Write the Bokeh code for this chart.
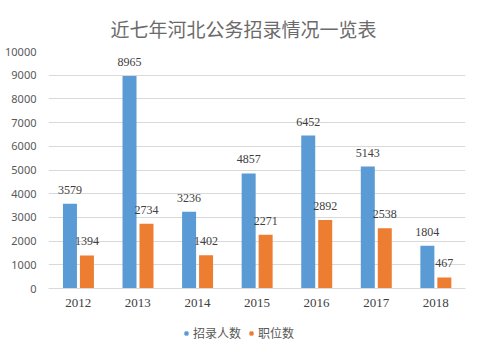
from bokeh.plotting import figure
from bokeh.layouts import column
from bokeh.models import ColumnDataSource, FactorRange, Legend, LegendItem, Range1d, FixedTicker, LabelSet
from bokeh.transform import dodge
from bokeh.embed import file_html
from bokeh.resources import INLINE

years = ["2012", "2013", "2014", "2015", "2016", "2017", "2018"]
recruits = [3579, 8965, 3236, 4857, 6452, 5143, 1804]
positions = [1394, 2734, 1402, 2271, 2892, 2538, 467]
y_ticks = [0, 1000, 2000, 3000, 4000, 5000, 6000, 7000, 8000, 9000, 10000]
series_names = ["招录人数", "职位数"]
colors = ["#5B9BD5", "#ED7D31"]

src = ColumnDataSource(dict(years=years, recruits=recruits, positions=positions,
                            rl=[str(v) for v in recruits], pl=[str(v) for v in positions]))

p = figure(width=484, height=313, x_range=FactorRange(*years), y_range=Range1d(0, 10000),
           output_backend="svg", toolbar_location=None,
           min_border_left=48, min_border_right=19, min_border_top=51, min_border_bottom=25)

p.title.text = "近七年河北公务招录情况一览表"
p.title.align = "left"
p.title.offset = 62
p.title.text_font = "Noto Sans CJK SC"
p.title.text_font_style = "normal"
p.title.text_font_size = "19px"
p.title.text_color = "#6b6b6b"
p.title.standoff = 20

b1 = p.vbar(x=dodge("years", -0.14, range=p.x_range), top="recruits", width=0.235, source=src,
            color=colors[0], line_color=None)
b2 = p.vbar(x=dodge("years", 0.145, range=p.x_range), top="positions", width=0.235, source=src,
            color=colors[1], line_color=None)

for col, lab, off in (("recruits", "rl", -0.14), ("positions", "pl", 0.145)):
    ls = LabelSet(x=dodge("years", off, range=p.x_range), y=col, text=lab, source=src,
                  text_align="center", text_baseline="bottom", y_offset=10,
                  text_font="Noto Sans", text_font_size="12px", text_color="#404040")
    p.add_layout(ls)

p.yaxis.ticker = FixedTicker(ticks=y_ticks)
p.yaxis.axis_line_color = None
p.yaxis.major_tick_line_color = None
p.yaxis.minor_tick_line_color = None
p.yaxis.major_label_standoff = 6
p.yaxis.major_label_text_font = "Noto Sans"
p.yaxis.major_label_text_font_size = "11px"
p.yaxis.major_label_text_color = "#595959"

p.xaxis.axis_line_color = "#d9d9d9"
p.xaxis.major_tick_line_color = None
p.xaxis.minor_tick_line_color = None
p.xaxis.major_label_standoff = 4
p.xaxis.major_label_text_font = "Liberation Serif"
p.xaxis.major_label_text_font_size = "13px"
p.xaxis.major_label_text_color = "#404040"

p.xgrid.grid_line_color = None
p.ygrid.grid_line_color = "#d9d9d9"
p.outline_line_color = None
p.x_range.range_padding = 0
p.x_range.group_padding = 0

# legend strip below the chart
lf = figure(width=484, height=38, x_range=FactorRange(*years), y_range=Range1d(0, 10000),
            output_backend="svg", toolbar_location=None, x_axis_type=None, y_axis_type=None,
            min_border=0)
lf.outline_line_color = None
lf.grid.visible = False
r1 = lf.scatter(x="years", y="recruits", marker="square", size=8, source=src,
                color=colors[0], visible=False)
r2 = lf.scatter(x="years", y="positions", marker="square", size=8, source=src,
                color=colors[1], visible=False)
legend = Legend(items=[LegendItem(label=series_names[0], renderers=[r1]),
                       LegendItem(label=series_names[1], renderers=[r2])],
                orientation="horizontal", location=(134, 10),
                label_text_font="Noto Sans CJK SC", label_text_font_size="12px",
                label_text_color="#595959", glyph_width=8, glyph_height=8,
                label_standoff=3, spacing=6, border_line_color=None,
                background_fill_alpha=0, padding=2, margin=0)
lf.add_layout(legend, "center")

open("out.html", "w").write(file_html(column(p, lf, spacing=0), INLINE))
